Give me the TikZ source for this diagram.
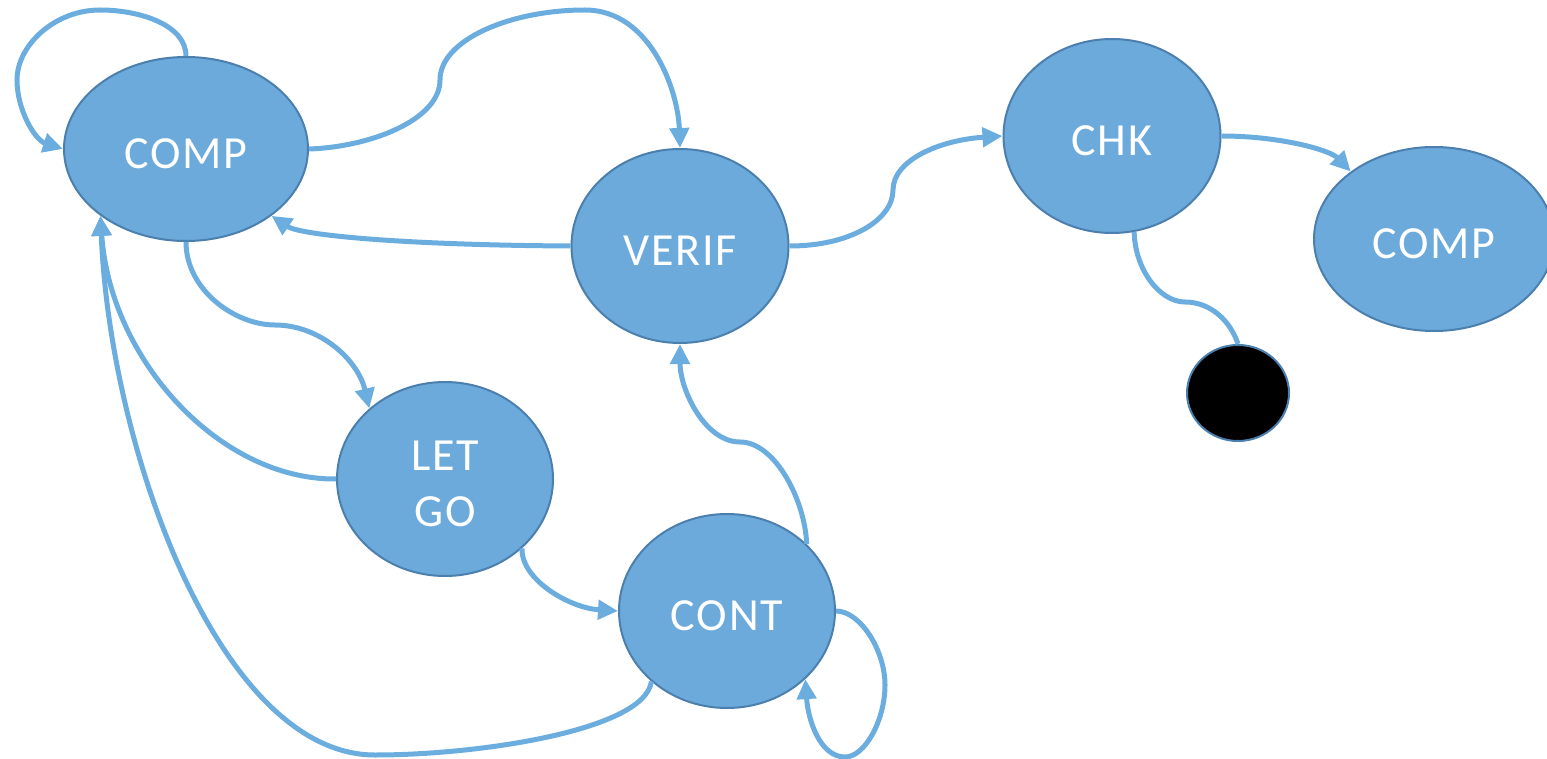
\documentclass[tikz,border=0pt]{standalone}
\usepackage{fontspec}
\setmainfont{Carlito}
\newfontfamily\statefont[LetterSpace=4]{Carlito}
\usetikzlibrary{shapes.geometric,arrows.meta}
\definecolor{nodefill}{HTML}{6CAADC}
\definecolor{nodeborder}{HTML}{4A7FAE}
\definecolor{edgecol}{HTML}{6CADDF}
\begin{document}
\begin{tikzpicture}[x=1pt,y=1pt,
  state/.style={ellipse,fill=nodefill,draw=nodeborder,line width=2pt,inner sep=0pt},
  lbl/.style={text=white,font=\statefont\fontsize{46}{56}\selectfont,align=center,yshift=-5pt,inner sep=0pt},
  edge/.style={draw=edgecol,line width=5pt},
  arr/.style={edge,-{Triangle[length=20pt,width=19pt]}}]
\useasboundingbox (0,0) rectangle (1547,-759);
\node[state,minimum width=244pt,minimum height=184pt,label={[lbl]center:COMP}] (comp1) at (186,-149) {};
\node[state,minimum width=217pt,minimum height=194pt,label={[lbl]center:VERIF}] (verif) at (680,-246) {};
\node[state,minimum width=217pt,minimum height=194pt,label={[lbl]center:CHK}] (chk) at (1112,-136) {};
\node[state,minimum width=240pt,minimum height=184pt,label={[lbl]center:COMP}] (comp2) at (1434,-239) {};
\node[state,minimum width=216pt,minimum height=194pt,label={[lbl]center:LET\\GO}] (letgo) at (445,-479) {};
\node[state,minimum width=216pt,minimum height=194pt,label={[lbl]center:CONT}] (cont) at (727,-611) {};
\node[ellipse,fill=black,draw=nodeborder,line width=2pt,inner sep=0pt,minimum width=102pt,minimum height=96pt] (dot) at (1238,-393) {};
% self loop COMP
\draw[arr] (comp1.north) .. controls (186,-25) and (140,-10) .. (100,-10)
  .. controls (55,-10) and (17,-45) .. (17,-80)
  .. controls (17,-110) and (35,-140) .. (comp1.west);
% COMP -> VERIF
\draw[arr] (comp1.east) .. controls (370,-147) and (440,-120) .. (440,-80)
  .. controls (440,-40) and (510,-10) .. (585,-10)
  .. controls (650,-10) and (678,-90) .. (verif.north);
% VERIF -> COMP
\draw[arr] (verif.west) .. controls (400,-245) and (300,-235) .. (comp1.-38);
% COMP -> LETGO
\draw[arr] (comp1.south) .. controls (186,-290) and (235,-325) .. (275,-325)
  .. controls (320,-325) and (358,-360) .. (letgo.137);
% LETGO -> COMP
\draw[arr] (letgo.west) .. controls (220,-480) and (110,-360) .. (comp1.-142);
% CONT -> COMP
\draw[arr] (cont.-137) .. controls (645,-730) and (480,-755) .. (375,-755)
  .. controls (220,-755) and (110,-450) .. (comp1.-142);
% LETGO -> CONT
\draw[arr] (letgo.-42) .. controls (521,-580) and (570,-608) .. (cont.west);
% CONT -> VERIF
\draw[arr] (cont.40) .. controls (805,-500) and (775,-442) .. (740,-442)
  .. controls (705,-442) and (680,-390) .. (verif.south);
% CONT self loop
\draw[arr] (cont.east) .. controls (860,-611) and (885,-650) .. (885,-685)
  .. controls (885,-720) and (865,-757) .. (845,-757)
  .. controls (820,-757) and (808,-720) .. (cont.-41);
% VERIF -> CHK
\draw[arr] (verif.east) .. controls (850,-246) and (893,-220) .. (893,-190)
  .. controls (893,-160) and (940,-140) .. (chk.west);
% CHK -> COMP2
\draw[arr] (chk.east) .. controls (1280,-136) and (1330,-150) .. (comp2.141);
% CHK -> dot
\draw[edge] (chk.-77) .. controls (1135,-270) and (1160,-302) .. (1185,-302)
  .. controls (1210,-302) and (1230,-320) .. (dot.north);
\end{tikzpicture}
\end{document}
